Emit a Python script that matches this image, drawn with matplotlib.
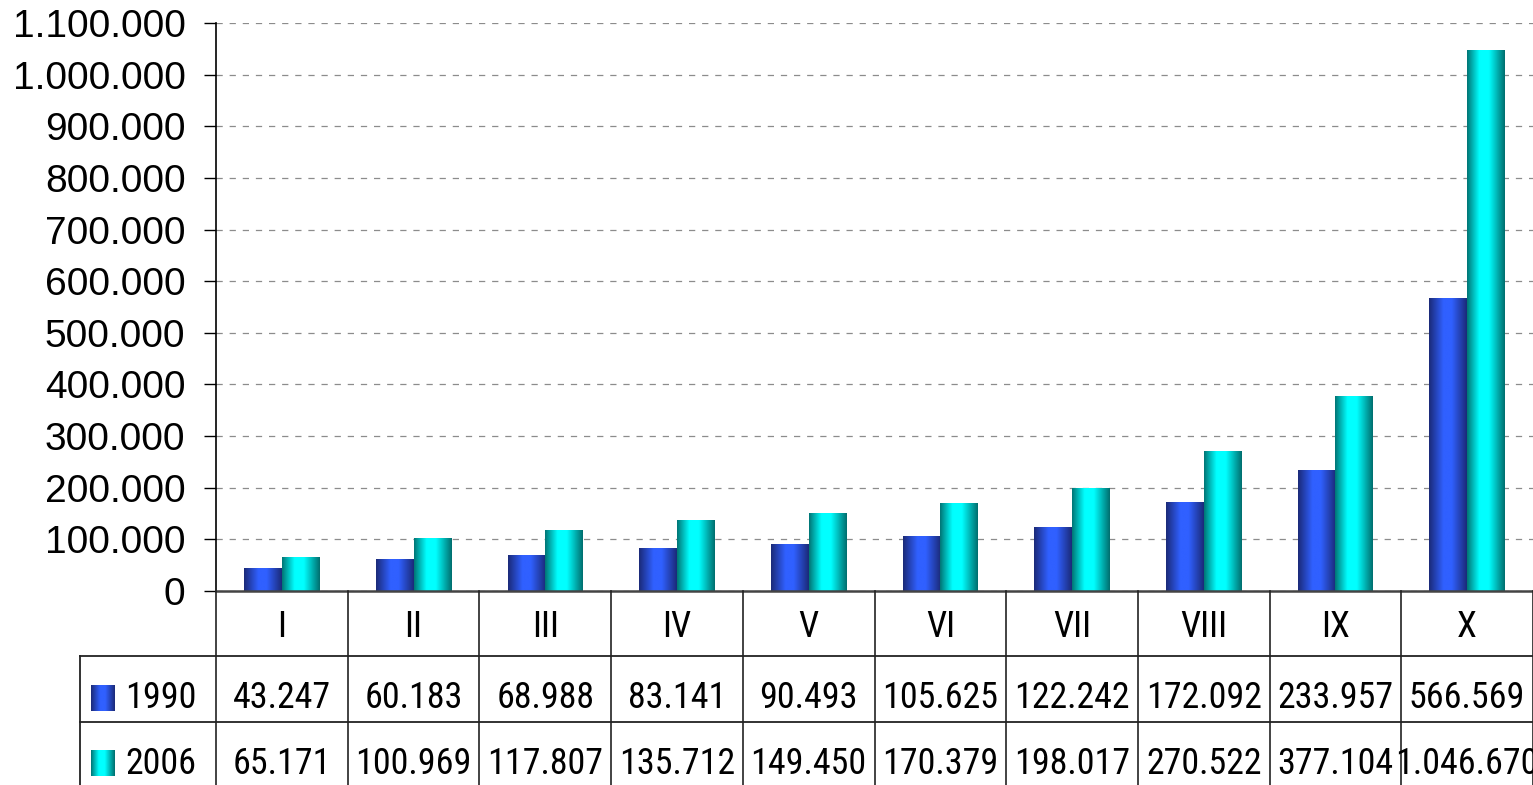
import os
import matplotlib
matplotlib.use('Agg')
import matplotlib.pyplot as plt
import numpy as np
from matplotlib import font_manager as fm
from matplotlib.colors import LinearSegmentedColormap
from matplotlib.ticker import FuncFormatter, MultipleLocator
from matplotlib.transforms import blended_transform_factory

categories = ['I', 'II', 'III', 'IV', 'V', 'VI', 'VII', 'VIII', 'IX', 'X']
years = ['1990', '2006']
v1990 = [43247, 60183, 68988, 83141, 90493, 105625, 122242, 172092, 233957, 566569]
v2006 = [65171, 100969, 117807, 135712, 149450, 170379, 198017, 270522, 377104, 1046670]


def dots(v, pos=None):
    return f'{int(v):,}'.replace(',', '.')


def narrow_font():
    # look for a narrow / condensed regular face, best first
    prefs = ['liberation sans narrow', 'roboto condensed', 'open sans condensed',
             'noto sans condensed', 'dejavu sans condensed']
    found = {}
    for f in fm.fontManager.ttflist:
        fn = os.path.basename(f.fname).lower()
        key = (f.name + ' ' + fn).lower()
        if not ('narrow' in key or 'condensed' in key):
            continue
        if 'bold' in fn or 'italic' in fn or 'oblique' in fn or 'light' in fn \
                or 'medium' in fn or 'semi' in fn or 'extra' in fn or 'thin' in fn \
                or 'black' in fn:
            continue
        for p in prefs:
            if p.split()[0] in key:
                found.setdefault(p, f.fname)
        found.setdefault('other', f.fname)
    for p in prefs + ['other']:
        if p in found:
            return fm.FontProperties(fname=found[p])
    return fm.FontProperties(family='Liberation Sans')


W, H = 1533, 785
fig = plt.figure(figsize=(W / 100, H / 100), dpi=100)
ax = fig.add_axes([216 / W, 1 - 591 / H, 1 - 216 / W, (591 - 23) / H])

# fit table font so that "100.969" is about 116 px wide, as in the reference
tprop = narrow_font()
tprop.set_size(29)
rend = fig.canvas.get_renderer()
w_ref, _, _ = rend.get_text_width_height_descent('100.969', tprop, ismath=False)
tsize = min(30, 29 * 116 / w_ref)
tprop.set_size(tsize)

blue_cm = LinearSegmentedColormap.from_list(
    'b', [(0, '#1b2a78'), (0.38, '#3060ff'), (0.6, '#3060ff'), (1, '#1b2a78')])
cyan_cm = LinearSegmentedColormap.from_list(
    'c', [(0, '#007575'), (0.33, '#00ffff'), (0.58, '#00ffff'), (1, '#006e6e')])
grad = np.linspace(0, 1, 128).reshape(1, -1)

x = np.arange(len(categories))
bw = 0.286
for vals, off, cm in [(v1990, -bw / 2, blue_cm), (v2006, bw / 2, cyan_cm)]:
    bars = ax.bar(x + off, vals, bw, color='none', zorder=2)
    for b in bars:
        x0, y0 = b.get_x(), b.get_y()
        ax.imshow(grad, cmap=cm, aspect='auto', interpolation='bilinear', zorder=2,
                  extent=[x0, x0 + b.get_width(), y0, y0 + b.get_height()])

ax.set_xlim(-0.5, 9.5)
ax.set_ylim(0, 1100000)
ax.yaxis.set_major_locator(MultipleLocator(100000))
ax.yaxis.set_major_formatter(FuncFormatter(dots))
ax.yaxis.grid(True, color='#8c8c8c', linestyle=(0, (5, 5.5)), linewidth=0.9)
ax.set_axisbelow(True)
ax.set_xticks([])
ax.tick_params(axis='y', direction='out', length=8.5, width=1, pad=13.5,
               labelsize=28, labelcolor='black')
for lab in ax.get_yticklabels():
    lab.set_family(['Liberation Sans', 'DejaVu Sans'])
ax.spines['top'].set_visible(False)
ax.spines['right'].set_visible(False)
ax.spines['left'].set_linewidth(1.2)
ax.spines['bottom'].set_color('#444444')
ax.spines['bottom'].set_linewidth(1.8)

# data table under the plot
ov = fig.add_axes([0, 0, 1, 1])
ov.axis('off')
ov.set_xlim(0, W)
ov.set_ylim(H, 0)
tr = blended_transform_factory(ax.transData, ov.transData)
lc = '#222222'

for k in range(len(categories) + 1):
    ov.plot([k - 0.5, k - 0.5], [591, H], transform=tr, color=lc, lw=1.2)
ov.plot([80, W], [656, 656], color=lc, lw=1.3)
ov.plot([80, W], [722, 722], color=lc, lw=1.3)
ov.plot([80, 80], [656, H], color=lc, lw=1.3)

for i, c in enumerate(categories):
    ov.text(i, 637, c, transform=tr, ha='center', va='baseline', fontproperties=tprop)
for vals, base in [(v1990, 708), (v2006, 774)]:
    for i, v in enumerate(vals):
        ov.text(i, base, dots(v), transform=tr, ha='center', va='baseline',
                fontproperties=tprop)

for yr, cm, top, base in [(years[0], blue_cm, 685, 708), (years[1], cyan_cm, 750, 774)]:
    ov.imshow(grad, cmap=cm, aspect='auto', interpolation='bilinear',
              extent=[91, 115, top + 26, top])
    ov.text(125, base, yr, ha='left', va='baseline', fontproperties=tprop)

ov.set_xlim(0, W)
ov.set_ylim(H, 0)

fig.savefig('out.png', dpi=100)
